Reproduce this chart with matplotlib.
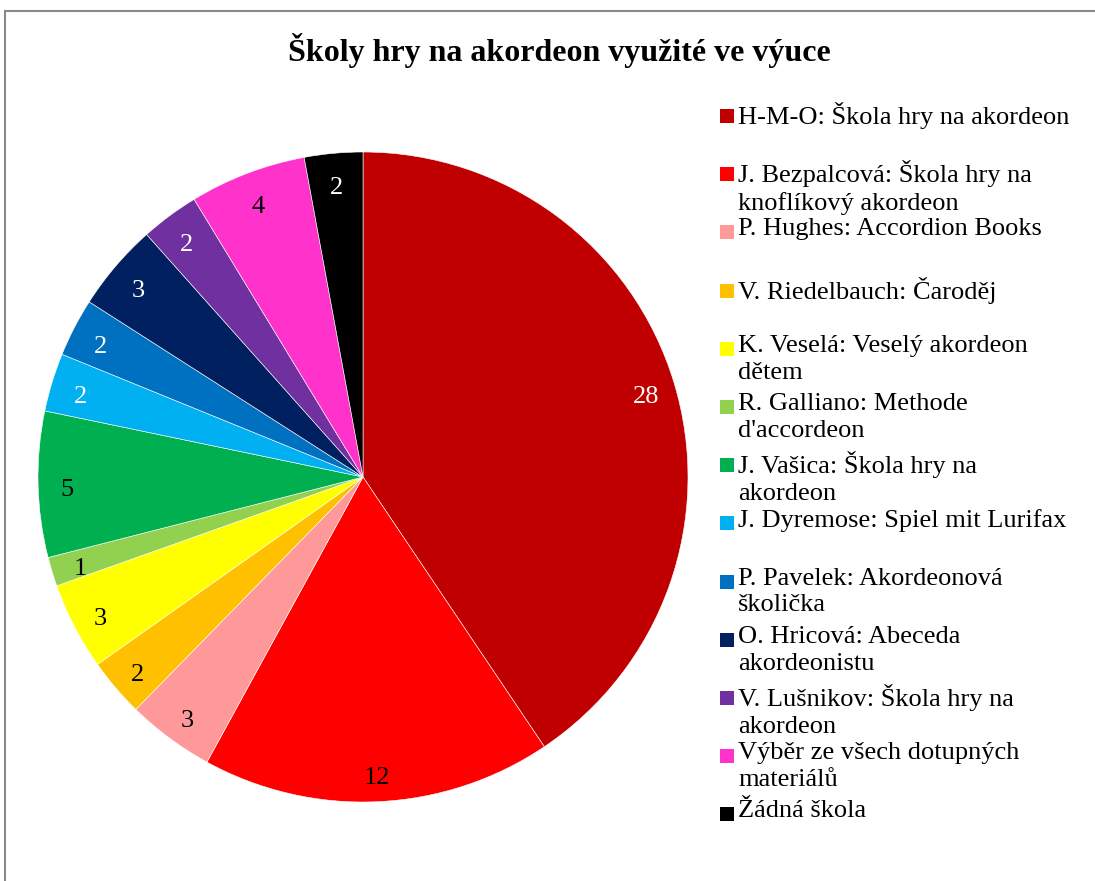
import matplotlib.pyplot as plt
from matplotlib.patches import Rectangle
from matplotlib.transforms import offset_copy

plt.rcParams['font.family'] = ['Liberation Serif', 'DejaVu Serif']

# data
nazvy = ['H-M-O: Škola hry na akordeon',
         'J. Bezpalcová: Škola hry na\nknoflíkový akordeon',
         'P. Hughes: Accordion Books',
         'V. Riedelbauch: Čaroděj',
         'K. Veselá: Veselý akordeon\ndětem',
         "R. Galliano: Methode\nd'accordeon",
         'J. Vašica: Škola hry na\nakordeon',
         'J. Dyremose: Spiel mit Lurifax',
         'P. Pavelek: Akordeonová\nškolička',
         'O. Hricová: Abeceda\nakordeonistu',
         'V. Lušnikov: Škola hry na\nakordeon',
         'Výběr ze všech dotupných\nmateriálů',
         'Žádná škola']
pocty = [28, 12, 3, 2, 3, 1, 5, 2, 2, 3, 2, 4, 2]
barvy = ['#C00000', '#FF0000', '#FF9999', '#FFC000', '#FFFF00', '#92D050',
         '#00B050', '#00B0F0', '#0070C0', '#002060', '#7030A0', '#FF33CC',
         '#000000']
barva_cisla = ['white', 'black', 'black', 'black', 'black', 'black', 'black',
               'white', 'white', 'white', 'white', 'black', 'white']

W, H = 1095, 881
fig = plt.figure(figsize=(W / 100, H / 100), dpi=100)

# ramecek grafu
fig.patches.append(Rectangle((5 / W, -0.05), 1.2, 1 - 11 / H + 0.05,
                             transform=fig.transFigure, fill=False,
                             edgecolor='#888888', lw=1.5))

fig.text(559 / W, 1 - 50 / H, 'Školy hry na akordeon využité ve výuce',
         ha='center', va='center', fontsize=23, fontweight='bold')

# kolac
cx, cy, r = 363, 477, 325
ax = fig.add_axes([(cx - r) / W, 1 - (cy + r) / H, 2 * r / W, 2 * r / H])
wedges, _, cisla = ax.pie(pocty, colors=barvy, startangle=90, counterclock=False,
                          autopct=lambda p: '%d' % round(p * sum(pocty) / 100),
                          pctdistance=0.91, radius=1,
                          wedgeprops=dict(linewidth=0.4, edgecolor='white'),
                          textprops=dict(fontsize=19))
for t, c in zip(cisla, barva_cisla):
    t.set_color(c)
    t.set_transform(offset_copy(ax.transData, fig=fig, x=0, y=-6, units='dots'))
ax.set_xlim(-1, 1)
ax.set_ylim(-1, 1)
ax.set_aspect('equal')
ax.axis('off')

# legenda
y0, krok = 116, 58.2
for i, (n, b) in enumerate(zip(nazvy, barvy)):
    y = y0 + i * krok
    fig.patches.append(Rectangle((720 / W, 1 - (y + 7) / H), 14 / W, 14 / H,
                                 transform=fig.transFigure, facecolor=b,
                                 edgecolor='none'))
    fig.text(738 / W, 1 - (y - 14) / H, n, ha='left', va='top', fontsize=19,
             linespacing=1.28)

fig.savefig('out.png', dpi=100)
